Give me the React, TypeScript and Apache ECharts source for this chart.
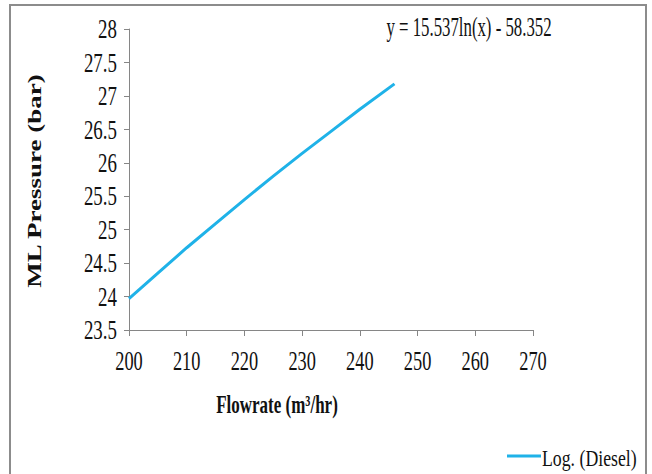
import React, { useEffect, useRef } from "react";
import * as echarts from "echarts";

const flowrate = [200, 205, 210, 215, 220, 225, 230, 235, 240, 246];
const pressure = [23.97, 24.35, 24.73, 25.09, 25.45, 25.8, 26.14, 26.47, 26.8, 27.18];
const xTicks = [200, 210, 220, 230, 240, 250, 260, 270];
const yTicks = [23.5, 24, 24.5, 25, 25.5, 26, 26.5, 27, 27.5, 28];
const seriesName = "Log. (Diesel)";
const equationText = "y = 15.537ln(x) - 58.352";
const xTitle = "Flowrate (m³/hr)";
const yTitle = "ML Pressure (bar)";

const FONT = "'Liberation Serif', 'Times New Roman', serif";
const INK = "#111111";
const LINE = "#1FB2E8";
const AXIS = "#868686";

export default function App() {
  const ref = useRef<HTMLDivElement>(null);
  useEffect(() => {
    if (!ref.current) return;
    const chart = echarts.init(ref.current, undefined, { renderer: "svg" });
    chart.setOption({
      animation: false,
      backgroundColor: "#ffffff",
      grid: { left: 129, top: 29, width: 404, height: 301 },
      xAxis: {
        type: "value",
        min: 200,
        max: 270,
        interval: 10,
        splitLine: { show: false },
        axisLine: { lineStyle: { color: AXIS, width: 1 } },
        axisTick: { show: true, length: 6, lineStyle: { color: AXIS } },
        axisLabel: { show: false },
      },
      yAxis: {
        type: "value",
        min: 23.5,
        max: 28,
        interval: 0.5,
        splitLine: { show: false },
        axisLine: { show: true, lineStyle: { color: AXIS, width: 1 } },
        axisTick: { show: true, length: 5, lineStyle: { color: AXIS } },
        axisLabel: { show: false },
      },
      series: [
        {
          name: seriesName,
          type: "line",
          data: flowrate.map((x, i) => [x, pressure[i]]),
          showSymbol: false,
          symbol: "none",
          lineStyle: { color: LINE, width: 3 },
          itemStyle: { color: LINE },
        },
      ],
    });

    const g: any[] = [
      {
        type: "rect",
        shape: { x: 10, y: 5, width: 636, height: 490 },
        style: { fill: "none", stroke: "#8c8c8c", lineWidth: 2 },
        silent: true,
      },
    ];
    yTicks.forEach((v) => {
      const p = chart.convertToPixel({ gridIndex: 0 }, [200, v]) as number[];
      g.push({
        type: "text",
        x: p[0] - 12,
        y: p[1],
        scaleX: 0.7,
        style: {
          text: String(v),
          fill: INK,
          font: `27px ${FONT}`,
          textAlign: "right",
          textVerticalAlign: "middle",
        },
      });
    });
    xTicks.forEach((v) => {
      const p = chart.convertToPixel({ gridIndex: 0 }, [v, 23.5]) as number[];
      g.push({
        type: "text",
        x: p[0],
        y: p[1] + 31,
        scaleX: 0.68,
        style: {
          text: String(v),
          fill: INK,
          font: `27px ${FONT}`,
          textAlign: "center",
          textVerticalAlign: "middle",
        },
      });
    });
    g.push(
      {
        type: "text",
        x: 35,
        y: 181,
        rotation: Math.PI / 2,
        scaleY: 0.7,
        style: {
          text: yTitle,
          fill: INK,
          font: `bold 27px ${FONT}`,
          textAlign: "center",
          textVerticalAlign: "middle",
        },
      },
      {
        type: "text",
        x: 277,
        y: 405,
        scaleX: 0.68,
        style: {
          text: xTitle,
          fill: INK,
          font: `bold 25px ${FONT}`,
          textAlign: "center",
          textVerticalAlign: "middle",
        },
      },
      {
        type: "text",
        x: 469,
        y: 26,
        scaleX: 0.6,
        style: {
          text: equationText,
          fill: INK,
          font: `28px ${FONT}`,
          textAlign: "center",
          textVerticalAlign: "middle",
        },
      },
      {
        type: "line",
        shape: { x1: 507, y1: 456, x2: 541, y2: 456 },
        style: { stroke: LINE, lineWidth: 3 },
      },
      {
        type: "text",
        x: 542,
        y: 458,
        scaleX: 0.74,
        style: {
          text: seriesName,
          fill: INK,
          font: `24px ${FONT}`,
          textAlign: "left",
          textVerticalAlign: "middle",
        },
      }
    );
    chart.setOption({ graphic: g });
    return () => chart.dispose();
  }, []);
  return (
    <div
      ref={ref}
      style={{ position: "fixed", left: 0, top: 0, width: 652, height: 474, background: "#fff" }}
    />
  );
}
